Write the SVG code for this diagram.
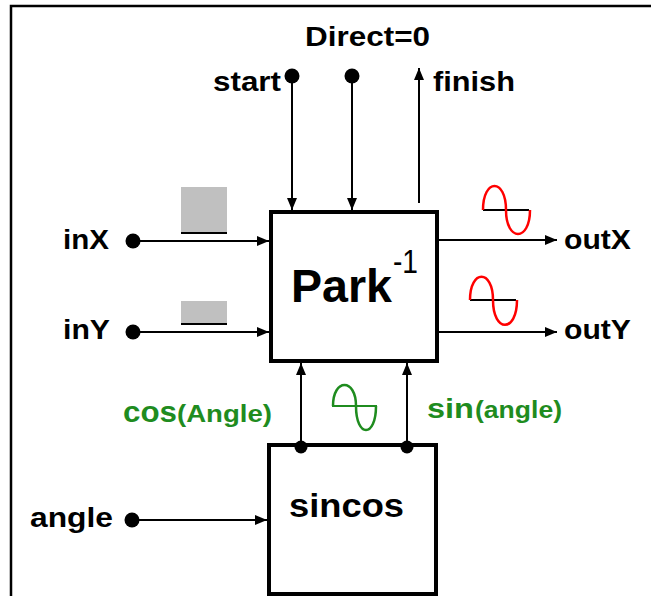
<svg xmlns="http://www.w3.org/2000/svg" width="651" height="596" viewBox="0 0 651 596">
<style>
.lbl{font-family:"Liberation Sans",Arial,sans-serif;font-weight:bold;fill:#000}
.grn{font-family:"Liberation Sans",Arial,sans-serif;font-weight:bold;fill:#1f8c1f}
.box{fill:#fff;stroke:#000;stroke-width:4}
.wire{fill:none;stroke:#000;stroke-width:2}
.dot{fill:#000}
.gray{fill:#c0c0c0}
.base{stroke:#000;stroke-width:2}
.red{fill:none;stroke:#ff0000;stroke-width:2.5}
.gw{fill:none;stroke:#1f8c1f;stroke-width:2.5}
</style>
<defs>
<marker id="arr" markerUnits="userSpaceOnUse" markerWidth="12" markerHeight="10" refX="12" refY="5" orient="auto">
<path d="M0,0 L12,5 L0,10 z" fill="#000"/>
</marker>
</defs>
<rect width="651" height="596" fill="#fff"/>
<g id="frame">
<path d="M11,596 L11,6 L651,6" fill="none" stroke="#000" stroke-width="2.5"/>
</g>
<g id="node-park">
<rect class="box" x="271" y="212" width="166" height="149"/>
<text class="lbl" x="291" y="302" font-size="46" textLength="101" lengthAdjust="spacingAndGlyphs">Park</text>
<text x="393" y="273" font-size="34" font-family="Liberation Sans, Arial, sans-serif" textLength="25" lengthAdjust="spacingAndGlyphs">-1</text>
</g>
<g id="node-sincos">
<rect class="box" x="269" y="445" width="167" height="149"/>
<text class="lbl" x="289" y="517" font-size="33" textLength="115" lengthAdjust="spacingAndGlyphs">sincos</text>
</g>
<g id="connectors">
<path class="wire" d="M292,76 L292,210" marker-end="url(#arr)"/>
<path class="wire" d="M352,76 L352,210" marker-end="url(#arr)"/>
<path class="wire" d="M419,203 L419,68" marker-end="url(#arr)"/>
<path class="wire" d="M133,241 L269,241" marker-end="url(#arr)"/>
<path class="wire" d="M133,332 L269,332" marker-end="url(#arr)"/>
<path class="wire" d="M439,240 L557,240" marker-end="url(#arr)"/>
<path class="wire" d="M439,332 L557,332" marker-end="url(#arr)"/>
<path class="wire" d="M301,447 L301,363" marker-end="url(#arr)"/>
<path class="wire" d="M407,447 L407,363" marker-end="url(#arr)"/>
<path class="wire" d="M132,520 L267,520" marker-end="url(#arr)"/>
</g>
<g id="port-start">
<circle class="dot" cx="292" cy="76" r="7.5"/>
<text class="lbl" x="213" y="91" font-size="27" textLength="68" lengthAdjust="spacingAndGlyphs">start</text>
</g>
<g id="port-direct">
<circle class="dot" cx="352" cy="76" r="7.5"/>
<text class="lbl" x="305" y="46" font-size="27" textLength="125" lengthAdjust="spacingAndGlyphs">Direct=0</text>
</g>
<g id="port-finish">
<text class="lbl" x="433" y="91" font-size="27" textLength="82" lengthAdjust="spacingAndGlyphs">finish</text>
</g>
<g id="port-inX">
<circle class="dot" cx="133" cy="241" r="7.5"/>
<text class="lbl" x="63" y="249" font-size="27" textLength="46" lengthAdjust="spacingAndGlyphs">inX</text>
<rect class="gray" x="181" y="187" width="46" height="45"/>
<line class="base" x1="181" y1="233" x2="227" y2="233"/>
</g>
<g id="port-inY">
<circle class="dot" cx="133" cy="332" r="7.5"/>
<text class="lbl" x="63" y="339" font-size="27" textLength="47" lengthAdjust="spacingAndGlyphs">inY</text>
<rect class="gray" x="181" y="301" width="46" height="22"/>
<line class="base" x1="181" y1="324" x2="227" y2="324"/>
</g>
<g id="port-outX">
<text class="lbl" x="564" y="249" font-size="27" textLength="67" lengthAdjust="spacingAndGlyphs">outX</text>
<line class="base" x1="483" y1="210" x2="529" y2="210"/>
<path class="red" d="M483,210 C483,178 506,178 506,210 C506,242 530,242 530,210"/>
</g>
<g id="port-outY">
<text class="lbl" x="564" y="339" font-size="27" textLength="67" lengthAdjust="spacingAndGlyphs">outY</text>
<line class="base" x1="470" y1="300" x2="516" y2="300"/>
<path class="red" d="M470,300 C470,269 493,269 493,300 C493,333 517,333 517,300"/>
</g>
<g id="port-angle">
<circle class="dot" cx="132" cy="520" r="7.5"/>
<text class="lbl" x="30" y="527" font-size="27" textLength="83" lengthAdjust="spacingAndGlyphs">angle</text>
</g>
<g id="sig-cos">
<circle class="dot" cx="301" cy="447" r="6.5"/>
<text class="grn" y="422"><tspan x="123" font-size="29" textLength="54" lengthAdjust="spacingAndGlyphs">cos</tspan><tspan x="177" font-size="24" textLength="95" lengthAdjust="spacingAndGlyphs">(Angle)</tspan></text>
</g>
<g id="sig-sin">
<circle class="dot" cx="407" cy="447" r="6.5"/>
<text class="grn" y="418"><tspan x="427" font-size="28" textLength="47" lengthAdjust="spacingAndGlyphs">sin</tspan><tspan x="475" font-size="24" textLength="87" lengthAdjust="spacingAndGlyphs">(angle)</tspan></text>
</g>
<g id="sig-wave">
<line x1="332" y1="406" x2="377" y2="406" stroke="#1f8c1f" stroke-width="2"/>
<path class="gw" d="M333,406 C333,378 356,378 356,406 C356,438 376,438 376,406"/>
</g>
</svg>
